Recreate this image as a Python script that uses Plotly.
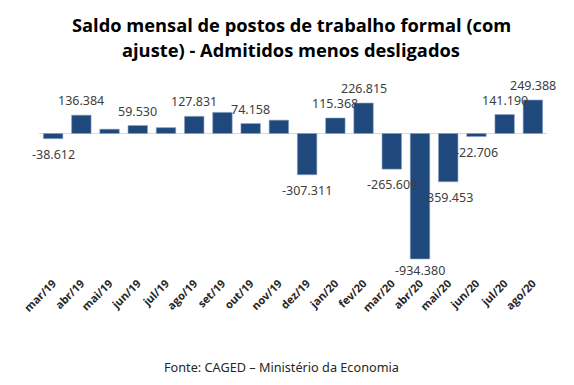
import plotly.graph_objects as go

months = ["mar/19", "abr/19", "mai/19", "jun/19", "jul/19", "ago/19", "set/19",
          "out/19", "nov/19", "dez/19", "jan/20", "fev/20", "mar/20", "abr/20",
          "mai/20", "jun/20", "jul/20", "ago/20"]
saldo = [-38612, 136384, 32140, 59530, 43820, 127831, 157213, 74158, 99232,
         -307311, 115368, 226815, -265609, -934380, -359453, -22706, 141190, 249388]
shown = [True, True, False, True, False, True, False, True, False,
         True, True, True, True, True, True, True, True, True]

title_lines = ["Saldo mensal de postos de trabalho formal (com",
               "ajuste) - Admitidos menos desligados"]
source_text = "Fonte: CAGED \u2013 Minist\u00e9rio da Economia"

# The page body has an 8px default margin; the figure is sized/offset to compensate.
OFF = 8
W, H = 574 - 2 * OFF, 385 - 2 * OFF
L, R, T, B = 39 - OFF, W - (547 - OFF), 90 - OFF, H - (270 - OFF)
pw, ph = W - L - R, H - T - B


def px_x(x):
    return (x - OFF - L) / pw


def px_y(y):
    return (H - B - (y - OFF)) / ph


def fmt(v):
    return f"{v:,}".replace(",", ".")


fig = go.Figure()
fig.add_trace(go.Bar(
    x=months, y=saldo,
    marker=dict(color="#1F497D", line=dict(color="#8EA3C2", width=0.6)),
    hoverinfo="x+y",
))

annotations = []
vmin = min(saldo)
lab_font = dict(family="Noto Sans", size=12.5, color="#404040")
for m, v, s in zip(months, saldo, shown):
    if not s:
        continue
    if v >= 0:
        annotations.append(dict(x=m, y=v, text=fmt(v), showarrow=False,
                                yanchor="bottom", yshift=4, font=lab_font))
    else:
        annotations.append(dict(x=m, y=v, text=fmt(v), showarrow=False,
                                yanchor="top", yshift=(-1 if v == vmin else -5),
                                font=lab_font))

title_font = dict(family="Open Sans", size=18.3, color="#000000", weight="bold")
for line, ypx in zip(title_lines, [25, 50]):
    annotations.append(dict(x=px_x(291), y=px_y(ypx), xref="paper", yref="paper",
                            text=line, showarrow=False, xanchor="center",
                            yanchor="middle", font=title_font))

annotations.append(dict(x=px_x(281), y=px_y(367), xref="paper", yref="paper",
                        text=source_text, showarrow=False, xanchor="center",
                        yanchor="middle",
                        font=dict(family="Noto Sans", size=12.7, color="#262626")))

fig.update_layout(
    width=W, height=H,
    margin=dict(l=L, r=R, t=T, b=B, autoexpand=False),
    paper_bgcolor="white", plot_bgcolor="white",
    bargap=0.31,
    showlegend=False,
    annotations=annotations,
)
fig.update_xaxes(
    type="category", range=[-0.5, len(months) - 0.5],
    tickangle=-45, showline=False, showgrid=False, ticks="", automargin=False,
    ticklabelstandoff=4,
    tickfont=dict(family="Open Sans", size=11, color="#262626", weight="bold"),
)
fig.update_yaxes(
    range=[-1017000, 324000], visible=False, showgrid=False,
    zeroline=False, automargin=False,
)
fig.add_shape(type="line", xref="paper", yref="y", x0=0, x1=1, y0=0, y1=0,
              line=dict(color="#D9D9D9", width=1.2), layer="below")

fig.write_html("out.html")
